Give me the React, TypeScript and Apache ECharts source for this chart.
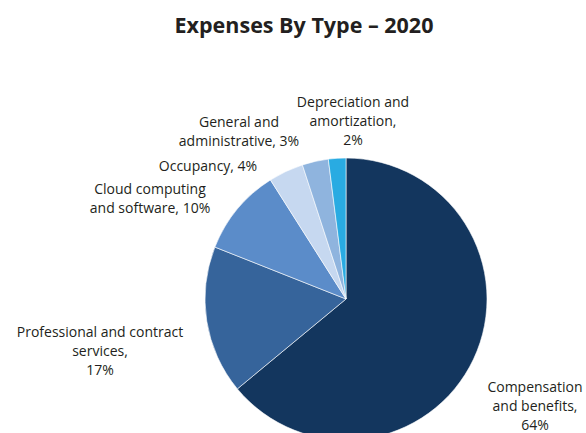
import React, { useEffect, useRef } from "react";
import * as echarts from "echarts";

const categories = [
  "Compensation and benefits",
  "Professional and contract services",
  "Cloud computing and software",
  "Occupancy",
  "General and administrative",
  "Depreciation and amortization",
];
const values = [64, 17, 10, 4, 3, 2];
const labelTexts = [
  "Compensation\nand benefits,\n64%",
  "Professional and contract\nservices,\n17%",
  "Cloud computing\nand software, 10%",
  "Occupancy, 4%",
  "General and\nadministrative, 3%",
  "Depreciation and\namortization,\n2%",
];
const colors = ["#13365e", "#36649b", "#5b8cc9", "#c6d8f0", "#8fb4de", "#29abe2"];
const labelPos: [number, number][] = [
  [535, 405],
  [100, 350],
  [150, 198],
  [208, 165],
  [239, 131],
  [353, 120],
];

export default function App() {
  const ref = useRef<HTMLDivElement>(null);
  useEffect(() => {
    if (!ref.current) return;
    const chart = echarts.init(ref.current, undefined, { renderer: "svg" });
    chart.setOption({
      animation: false,
      backgroundColor: "#ffffff",
      title: {
        text: "Expenses By Type – 2020",
        left: 299,
        textAlign: "center",
        top: 8,
        textStyle: {
          fontFamily: "Open Sans",
          fontSize: 21.5,
          fontWeight: "bold",
          color: "#231f20",
        },
      },
      series: [
        {
          type: "pie",
          center: [346, 299],
          radius: 141,
          startAngle: 90,
          clockwise: true,
          itemStyle: { borderColor: "#ffffff", borderWidth: 0.6 },
          label: {
            show: true,
            formatter: (p: any) => labelTexts[p.dataIndex],
            fontFamily: "Open Sans",
            fontSize: 14,
            lineHeight: 19,
            color: "#231f20",
            align: "center",
            overflow: "none",
            width: 300,
          },
          labelLine: { show: false },
          labelLayout: (p: any) => ({
            x: labelPos[p.dataIndex][0],
            y: labelPos[p.dataIndex][1],
            align: "center",
            verticalAlign: "middle",
          }),
          data: categories.map((c, i) => ({
            name: c,
            value: values[i],
            itemStyle: { color: colors[i] },
          })),
        },
      ],
    });
    return () => chart.dispose();
  }, []);
  return (
    <div
      ref={ref}
      style={{ position: "fixed", left: 0, top: 0, width: 586, height: 433 }}
    />
  );
}
